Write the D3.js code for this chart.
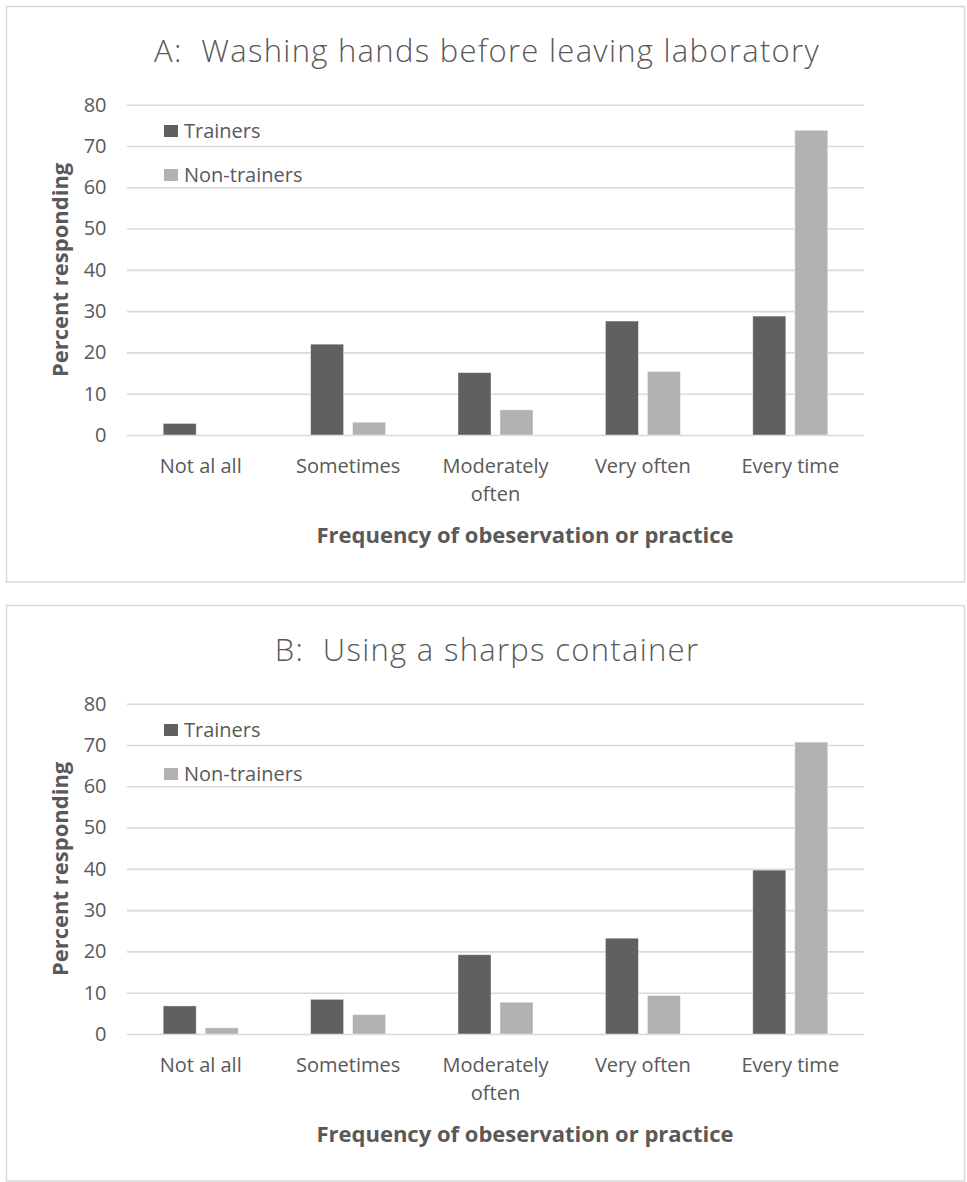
<!DOCTYPE html>
<html>
<head>
<meta charset="utf-8">
<script src="https://cdn.jsdelivr.net/npm/d3@7"></script>
<style>
  html, body { margin: 0; padding: 0; background: #fff; }
  svg { display: block; font-family: "Open Sans", Lato, sans-serif; }
</style>
</head>
<body>
<svg id="chart" width="967" height="1182"></svg>
<script>
// Response categories along the x axis
const categories = ["Not al all", "Sometimes", "Moderately often", "Very often", "Every time"];
const seriesNames = ["Trainers", "Non-trainers"];
const yTicks = [0, 10, 20, 30, 40, 50, 60, 70, 80];

// Panel A: washing hands before leaving laboratory (percent responding)
const washTrainers = [2.8, 22.0, 15.1, 27.6, 28.8];
const washNonTrainers = [0, 3.1, 6.1, 15.4, 73.8];

// Panel B: using a sharps container (percent responding)
const sharpsTrainers = [6.8, 8.4, 19.2, 23.2, 39.7];
const sharpsNonTrainers = [1.5, 4.7, 7.7, 9.3, 70.7];

const titles = ["A:  Washing hands before leaving laboratory", "B:  Using a sharps container"];
const yAxisTitle = "Percent responding";
const xAxisTitle = "Frequency of obeservation or practice";

const colors = { "Trainers": "#606060", "Non-trainers": "#b2b2b2" };
const textColor = "#595959";
const gridColor = "#d9d9d9";

const svg = d3.select("#chart");

const plot = { left: 127, right: 864, top: 104.7, bottom: 435 };

const x0 = d3.scaleBand()
  .domain(categories)
  .range([plot.left, plot.right])
  .padding(0);

const x1 = d3.scaleBand()
  .domain(seriesNames)
  .range([0, x0.bandwidth()])
  .paddingInner(0.214)
  .paddingOuter(0.862);

const y = d3.scaleLinear()
  .domain([0, 80])
  .range([plot.bottom, plot.top]);

function wrapLabel(textSel, width) {
  textSel.each(function () {
    const text = d3.select(this);
    const words = text.text().split(/\s+/);
    text.text(null);
    let line = [];
    let tspan = text.append("tspan").attr("x", 0).attr("dy", 0);
    words.forEach(w => {
      line.push(w);
      tspan.text(line.join(" "));
      if (tspan.node().getComputedTextLength() > width && line.length > 1) {
        line.pop();
        tspan.text(line.join(" "));
        line = [w];
        tspan = text.append("tspan").attr("x", 0).attr("dy", "1.38em").text(w);
      }
    });
  });
}

function drawPanel(offsetY, title, trainers, nonTrainers) {
  const g = svg.append("g").attr("transform", `translate(0,${offsetY})`);

  // panel frame
  g.append("rect")
    .attr("x", 6.5).attr("y", 6.5)
    .attr("width", 958).attr("height", 575.5)
    .attr("fill", "#fff")
    .attr("stroke", gridColor)
    .attr("stroke-width", 1.5);

  // title
  g.append("text")
    .attr("x", 487).attr("y", 62)
    .attr("text-anchor", "middle")
    .attr("fill", textColor)
    .attr("font-size", 31)
    .attr("font-weight", 300)
    .attr("letter-spacing", 1.3)
    .style("white-space", "pre")
    .text(title);

  // gridlines and y tick labels
  const yAxis = d3.axisLeft(y).tickValues(yTicks).tickSize(-(plot.right - plot.left)).tickPadding(20);
  const ya = g.append("g")
    .attr("transform", `translate(${plot.left},0)`)
    .call(yAxis);
  ya.select(".domain").remove();
  ya.selectAll(".tick line").attr("stroke", gridColor).attr("stroke-width", 1.6);
  ya.selectAll(".tick text")
    .attr("fill", textColor)
    .attr("font-size", 20)
    .attr("font-family", "'Open Sans', sans-serif")
    .attr("x", -20.5);

  // bars
  const rows = categories.map((c, i) => ({ cat: c, values: [
    { key: "Trainers", value: trainers[i] },
    { key: "Non-trainers", value: nonTrainers[i] }
  ]}));

  const groups = g.append("g").selectAll("g")
    .data(rows)
    .join("g")
    .attr("transform", d => `translate(${x0(d.cat)},0)`);

  groups.selectAll("rect")
    .data(d => d.values.filter(v => v.value > 0))
    .join("rect")
    .attr("x", d => x1(d.key))
    .attr("width", x1.bandwidth())
    .attr("y", d => y(d.value))
    .attr("height", d => y(0) - y(d.value))
    .attr("fill", d => colors[d.key])
    .attr("stroke", "#ffffff")
    .attr("stroke-opacity", 0.5)
    .attr("stroke-width", 0.8);

  // x axis category labels
  const xAxis = d3.axisBottom(x0).tickSize(0).tickPadding(0);
  const xa = g.append("g")
    .attr("transform", `translate(0,${plot.bottom})`)
    .call(xAxis);
  xa.select(".domain").remove();
  xa.selectAll(".tick text")
    .attr("fill", textColor)
    .attr("font-size", 20)
    .attr("font-family", "'Open Sans', sans-serif")
    .attr("y", 38)
    .attr("dy", 0)
    .call(wrapLabel, x0.bandwidth() * 0.9);

  // axis titles
  g.append("text")
    .attr("transform", `translate(68,${(plot.top + plot.bottom) / 2}) rotate(-90)`)
    .attr("text-anchor", "middle")
    .attr("fill", textColor)
    .attr("font-size", 22)
    .attr("font-weight", 700)
    .text(yAxisTitle);

  g.append("text")
    .attr("x", 525).attr("y", 543)
    .attr("text-anchor", "middle")
    .attr("fill", textColor)
    .attr("font-size", 22)
    .attr("font-weight", 700)
    .text(xAxisTitle);

  // legend
  const legend = g.append("g").selectAll("g")
    .data(seriesNames)
    .join("g")
    .attr("transform", (d, i) => `translate(164,${125 + i * 44})`);
  legend.append("rect")
    .attr("width", 14).attr("height", 12)
    .attr("fill", d => colors[d]);
  legend.append("text")
    .attr("x", 20).attr("y", 6)
    .attr("dy", "0.35em")
    .attr("fill", textColor)
    .attr("font-size", 20)
    .text(d => d);
}

drawPanel(0, titles[0], washTrainers, washNonTrainers);
drawPanel(599, titles[1], sharpsTrainers, sharpsNonTrainers);
</script>
</body>
</html>
